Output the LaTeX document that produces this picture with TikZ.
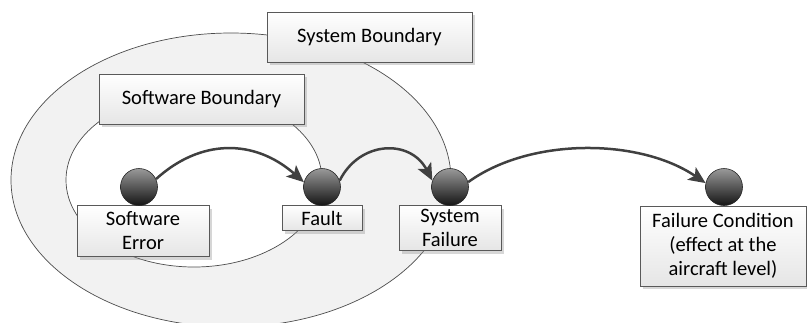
\documentclass[tikz,border=0pt]{standalone}
\usepackage{fontspec}
\setmainfont{Carlito}
\usetikzlibrary{shadows,arrows.meta}
\begin{document}
\begin{tikzpicture}[x=1pt,y=-1pt,
  lbl/.style={draw=black!65, line width=0.8pt, top color=white, bottom color=black!10,
    drop shadow={shadow xshift=3pt, shadow yshift=-3pt, opacity=0.35, fill=black!45},
    align=center, inner sep=0pt, font=\fontsize{20.5}{24}\selectfont},
  ballnode/.style={circle, minimum size=37pt, inner sep=0pt, draw=black!85, line width=0.6pt,
    top color=black!40, middle color=black!33, bottom color=black!92},
  flow/.style={draw=black!75, line width=2.5pt, -{Stealth[length=17pt,width=15pt,inset=4pt]}},
  bound/.style={draw=black!70, line width=0.7pt}]
\useasboundingbox (0,0) rectangle (807,322);
% boundaries
\draw[bound, fill=black!5] (231,180) ellipse [x radius=220pt, y radius=147pt];
\draw[bound, fill=white] (194,180) ellipse [x radius=128pt, y radius=87pt];
% labels
\node[lbl, minimum width=205pt, minimum height=50pt] (sysb) at (369.5,37) {System Boundary};
\node[lbl, minimum width=205pt, minimum height=50pt] (swb) at (201.5,99) {Software Boundary};
\node[lbl, minimum width=132pt, minimum height=51pt] (swerr) at (143,231) {Software\\Error};
\node[lbl, minimum width=80pt, minimum height=25pt] (fault) at (322,218) {Fault};
\node[lbl, minimum width=102pt, minimum height=45pt] (sysf) at (450,228) {System\\Failure};
\node[lbl, minimum width=166pt, minimum height=80pt] (fc) at (723,246) {Failure Condition\\(effect at the\\aircraft level)};
% balls
\node[ballnode] (b1) at (139,187) {};
\node[ballnode] (b2) at (322,187) {};
\node[ballnode] (b3) at (450,187) {};
\node[ballnode] (b4) at (724,187) {};
% arrows
\draw[flow] (b1.25) .. controls +(44,-40) and +(-50,-44) .. (b2.165);
\draw[flow] (b2.20) .. controls +(20,-40) and +(-22,-42) .. (b3.160);
\draw[flow] (b3.15) .. controls +(62,-45) and +(-66,-45) .. (b4.168);
\end{tikzpicture}
\end{document}
